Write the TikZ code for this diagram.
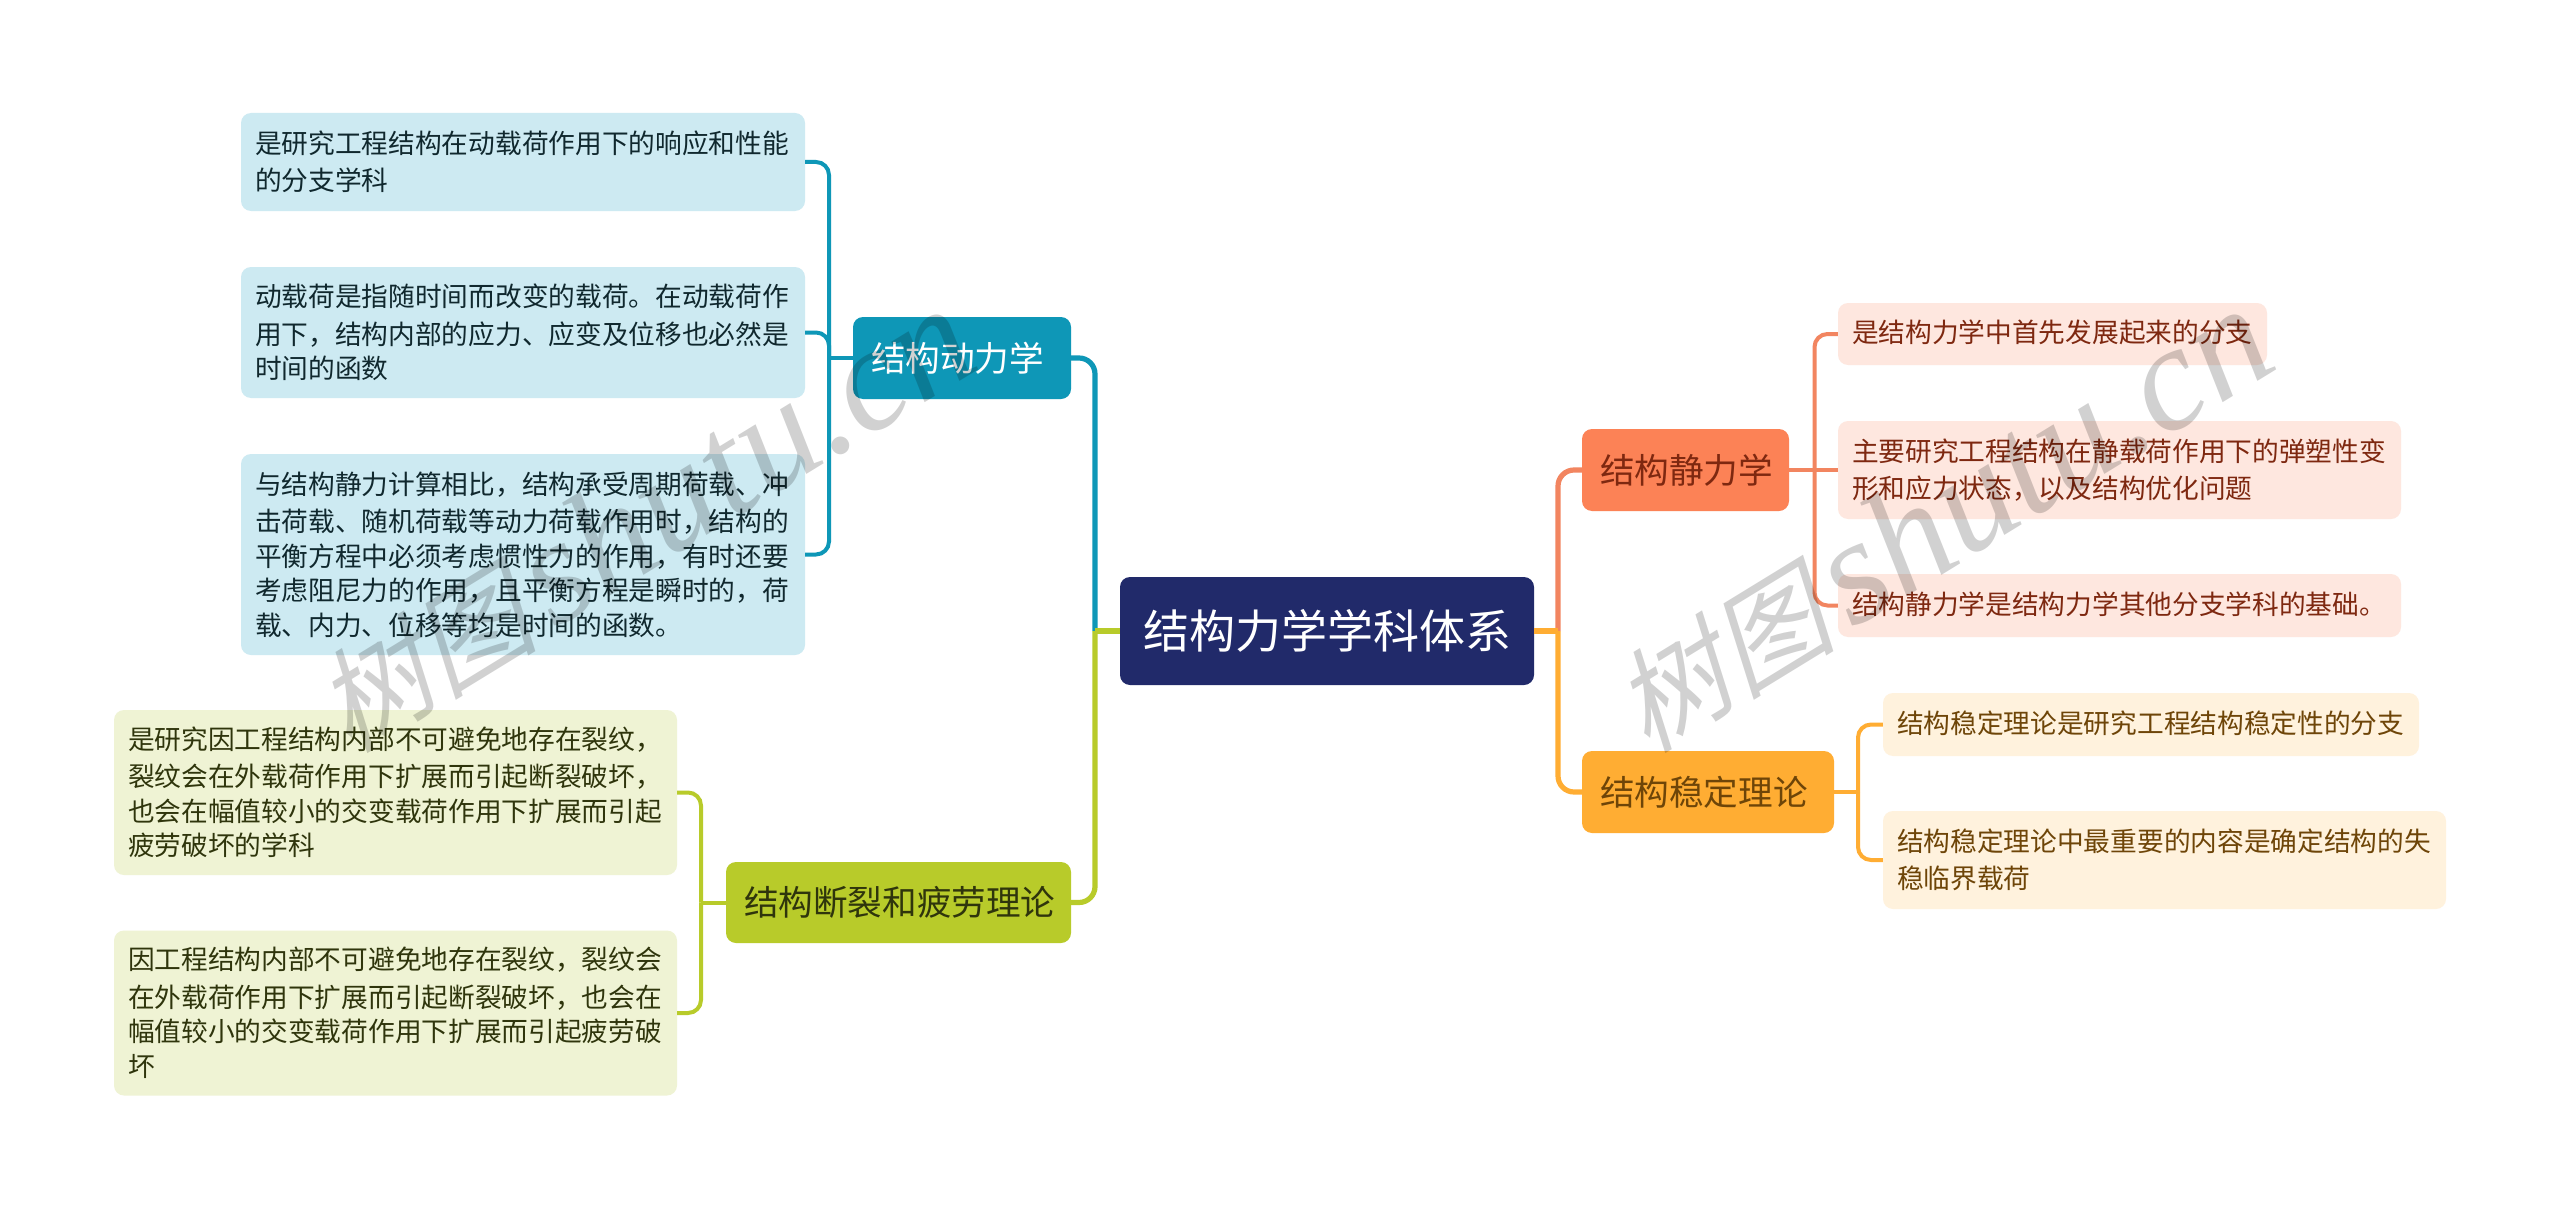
\documentclass[tikz,border=0pt]{standalone}
\usepackage{fontspec}
\setmainfont{Noto Sans CJK SC}
\newfontfamily\wmcjk[FakeSlant=0.25]{Noto Sans CJK SC}
\newfontfamily\wmlat[Ligatures=TeX]{Liberation Serif}
\definecolor{navy}{HTML}{212A6A}
\definecolor{tealA}{HTML}{0E97B7}
\definecolor{tealB}{HTML}{CDEAF2}
\definecolor{tealT}{HTML}{10282E}
\definecolor{oliveA}{HTML}{B8CB2A}
\definecolor{oliveB}{HTML}{EFF3D4}
\definecolor{oliveT}{HTML}{2F350C}
\definecolor{coralA}{HTML}{FC8256}
\definecolor{coralW}{HTML}{F28560}
\definecolor{coralB}{HTML}{FEE7DF}
\definecolor{coralT}{HTML}{7E2810}
\definecolor{amberA}{HTML}{FFAD33}
\definecolor{amberB}{HTML}{FFF2DD}
\definecolor{amberT}{HTML}{6E4508}
\tikzset{
  boxbase/.style={rectangle,rounded corners=10pt,inner sep=0pt,anchor=center},
  leaf/.style n args={4}{boxbase,fill=#1,text=#2,minimum width=#3 pt,minimum height=#4 pt,
     text width=#3 pt-28pt,align=left,font=\fontsize{26.7pt}{34.5pt}\selectfont,
     execute at begin node={\vspace*{3pt}}},
  branch/.style n args={4}{boxbase,fill=#1,text=#2,minimum width=#3 pt,minimum height=#4 pt,
     text width=#3 pt-36pt,align=left,font=\fontsize{34.6pt}{42pt}\selectfont},
  rootbox/.style={boxbase,fill=navy,text=white,minimum width=414pt,minimum height=108pt,
     align=center,font=\fontsize{46pt}{54pt}\selectfont},
  wireA/.style={line width=5.2pt,rounded corners=16pt,line cap=butt},
  wireB/.style={line width=4pt,rounded corners=13pt,line cap=butt},
  wmark/.style={text=black,opacity=0.18,rotate=31.5,anchor=center,inner sep=0pt},
}
\begin{document}
\begin{tikzpicture}[x=1pt,y=-1pt]
\useasboundingbox (0,0) rectangle (2560,1212);
\fill[white] (0,0) rectangle (2560,1212);
% trunk positions
\coordinate (tC1) at (1095,0);
\coordinate (tC2) at (1558,0);
\coordinate (tDyn) at (829,0);
\coordinate (tFra) at (701,0);
\coordinate (tSta) at (1814.5,0);
\coordinate (tStb) at (1858,0);
% nodes
\node[rootbox] (root) at (1327,631) {结构力学学科体系};
\node[branch={tealA}{white}{218}{82}] (dyn) at (962,358) {结构动力学};
\node[branch={oliveA}{oliveT}{345}{81}] (fra) at (898.5,902.5) {结构断裂和疲劳理论};
\node[branch={coralA}{coralT}{207}{82}] (sta) at (1685.5,470) {结构静力学};
\node[branch={amberA}{amberT}{252}{82}] (stb) at (1708,792) {结构稳定理论};
\node[leaf={tealB}{tealT}{564}{98}] (d1) at (523,162) {是研究工程结构在动载荷作用下的响应和性能\\的分支学科};
\node[leaf={tealB}{tealT}{564}{131}] (d2) at (523,332.5) {动载荷是指随时间而改变的载荷。在动载荷作\\用下，结构内部的应力、应变及位移也必然是\\时间的函数};
\node[leaf={tealB}{tealT}{564}{201}] (d3) at (523,554.5) {与结构静力计算相比，结构承受周期荷载、冲\\击荷载、随机荷载等动力荷载作用时，结构的\\平衡方程中必须考虑惯性力的作用，有时还要\\考虑阻尼力的作用，且平衡方程是瞬时的，荷\\载、内力、位移等均是时间的函数。};
\node[leaf={oliveB}{oliveT}{563}{165}] (f1) at (395.5,792.5) {是研究因工程结构内部不可避免地存在裂纹，\\裂纹会在外载荷作用下扩展而引起断裂破坏，\\也会在幅值较小的交变载荷作用下扩展而引起\\疲劳破坏的学科};
\node[leaf={oliveB}{oliveT}{563}{165}] (f2) at (395.5,1013) {因工程结构内部不可避免地存在裂纹，裂纹会\\在外载荷作用下扩展而引起断裂破坏，也会在\\幅值较小的交变载荷作用下扩展而引起疲劳破\\坏};
\node[leaf={coralB}{coralT}{429}{62}] (s1) at (2052.5,334) {是结构力学中首先发展起来的分支};
\node[leaf={coralB}{coralT}{563}{98}] (s2) at (2119.5,470) {主要研究工程结构在静载荷作用下的弹塑性变\\形和应力状态，以及结构优化问题};
\node[leaf={coralB}{coralT}{563}{63}] (s3) at (2119.5,605.5) {结构静力学是结构力学其他分支学科的基础。};
\node[leaf={amberB}{amberT}{536}{63}] (b1) at (2151,724.5) {结构稳定理论是研究工程结构稳定性的分支};
\node[leaf={amberB}{amberT}{563}{98}] (b2) at (2164.5,860) {结构稳定理论中最重要的内容是确定结构的失\\稳临界载荷};
% connectors
\draw[wireA,tealA] (root.west -| tC1) |- (dyn.east);
\draw[wireA,oliveA] (root.west -| tC1) |- (fra.east);
\draw[wireA,oliveA] (root.west) -- (root.west -| tC1);
\draw[wireA,coralW] (root.east -| tC2) |- (sta.west);
\draw[wireA,amberA] (root.east -| tC2) |- (stb.west);
\draw[wireA,amberA] (root.east) -- (root.east -| tC2);
\draw[wireB,tealA] (dyn.west -| tDyn) |- (d1.east);
\draw[wireB,tealA] (dyn.west -| tDyn) |- (d2.east);
\draw[wireB,tealA] (dyn.west -| tDyn) |- (d3.east);
\draw[wireB,tealA] (dyn.west) -- (dyn.west -| tDyn);
\draw[wireB,oliveA] (fra.west -| tFra) |- (f1.east);
\draw[wireB,oliveA] (fra.west -| tFra) |- (f2.east);
\draw[wireB,oliveA] (fra.west) -- (fra.west -| tFra);
\draw[wireB,coralW] (sta.east -| tSta) |- (s1.west);
\draw[wireB,coralW] (sta.east) -- (s2.west);
\draw[wireB,coralW] (sta.east -| tSta) |- (s3.west);
\draw[wireB,amberA] (stb.east -| tStb) |- (b1.west);
\draw[wireB,amberA] (stb.east -| tStb) |- (b2.west);
\draw[wireB,amberA] (stb.east) -- (stb.east -| tStb);
% watermarks
\node[wmark] (w1) at (642,520) {{\fontsize{112pt}{130pt}\selectfont\wmcjk 树图}\hspace{16pt}{\fontsize{150pt}{160pt}\selectfont\wmlat\itshape shutu.cn}};
\node[wmark] (w2) at (1940,520) {{\fontsize{112pt}{130pt}\selectfont\wmcjk 树图}\hspace{16pt}{\fontsize{150pt}{160pt}\selectfont\wmlat\itshape shutu.cn}};
\end{tikzpicture}
\end{document}
